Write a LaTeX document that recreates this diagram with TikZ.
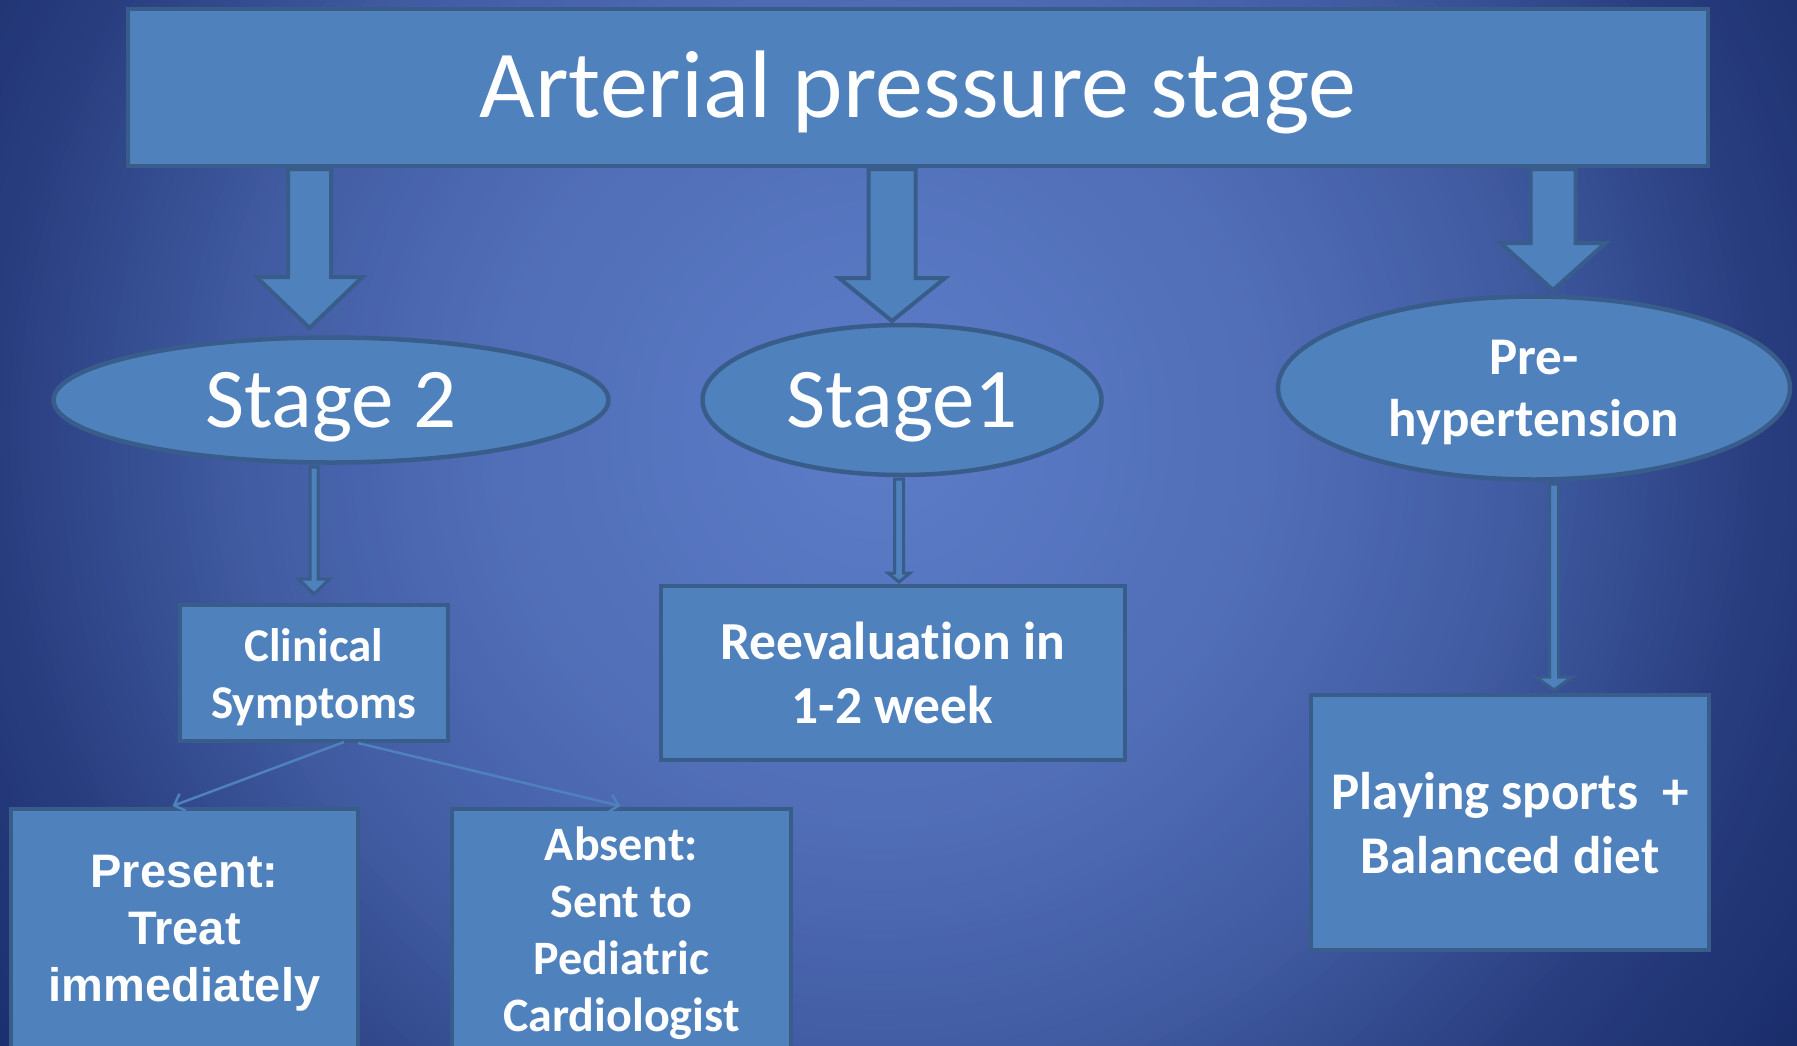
\documentclass[tikz,border=0pt]{standalone}
\usepackage{fontspec}
\setmainfont{Carlito}[Ligatures=NoCommon]
\newfontfamily\arialfont{Liberation Sans}
\usetikzlibrary{arrows.meta,calc,shapes.geometric}
\definecolor{boxfill}{HTML}{4F81BD}
\definecolor{boxline}{HTML}{385D8A}
\definecolor{bgA}{RGB}{93,125,201}
\definecolor{bgE}{RGB}{24,42,104}
\tikzset{
  box/.style={rectangle, fill=boxfill, draw=boxline, line width=4pt, inner sep=0pt, text=white, align=center, text depth=0pt},
  oval/.style={ellipse, fill=boxfill, draw=boxline, line width=4.5pt, inner sep=0pt, text=white, align=center},
  blockarrow/.style={fill=boxfill, draw=boxline, line width=4pt, line join=miter},
  thinarrow/.style={fill=boxfill, draw=boxline, line width=3pt, line join=miter},
  thinconn/.style={draw=boxfill, line width=2.5pt, -{Straight Barb[length=9pt,width=18pt]}},
}
\newcommand{\blockarr}[7]{% style, center x, top y, head y, tip y, shaft half, head half
  \draw[#1] (#2-#6,#3) -- (#2+#6,#3) -- (#2+#6,#4) -- (#2+#7,#4) -- (#2,#5) -- (#2-#7,#4) -- (#2-#6,#4) -- cycle;}
\begin{document}
\begin{tikzpicture}[x=1pt,y=-1pt]
\useasboundingbox (0,0) rectangle (1797,1045);
\clip (0,0) rectangle (1797,1045);
% radial background
\fill[bgE] (0,0) rectangle (1797,1045);
\foreach \r in {1200,1190,...,10} {
  \pgfmathsetmacro\f{\r<389 ? \r/389*18 : (\r<650 ? 18+(\r-389)/261*23 : (\r<880 ? 41+(\r-650)/230*35 : (\r<1104 ? 76+(\r-880)/224*21 : min(100, 97+(\r-1104)/46*3))))}
  \fill[bgE!\f!bgA] (880,430) circle (\r);
}

% title
\node[box, minimum width=1580pt, minimum height=157pt, text height=61pt, font=\fontsize{96}{115}\selectfont] (title) at (918,87) {Arterial pressure stage};

% ellipses
\node[oval, minimum width=555pt, minimum height=125pt, text height=54pt, text depth=0pt, font=\fontsize{85}{102}\selectfont] (s2) at (331,400) {Stage 2};
\node[oval, minimum width=399pt, minimum height=150pt, text height=54pt, text depth=0pt, font=\fontsize{85}{102}\selectfont] (s1) at (902,400) {Stage1};
\node[oval, minimum width=512pt, minimum height=183pt, text depth=0pt, font=\bfseries\fontsize{53}{62}\selectfont] (pre) at (1534,388) {Pre-\\hypertension};

% boxes
\node[box, minimum width=268pt, minimum height=136pt, font=\bfseries\fontsize{47}{57}\selectfont] (clin) at (314,673) {Clinical\\Symptoms};
\node[box, minimum width=464pt, minimum height=174pt, font=\bfseries\fontsize{53.5}{64}\selectfont] (reev) at (892.5,673) {Reevaluation in\\1-2 week};
\node[box, minimum width=398pt, minimum height=255pt, font=\bfseries\fontsize{53}{64}\selectfont] (play) at (1510,822.5) {Playing sports~ +\\Balanced diet};
\node[box, minimum width=347pt, minimum height=239pt, font=\arialfont\bfseries\fontsize{47}{57}\selectfont] (present) at (184.5,928.5) {Present:\\Treat\\immediately};
\node[box, minimum width=339pt, minimum height=241pt, font=\bfseries\fontsize{48}{57}\selectfont] (absent) at (621.5,929.5) {Absent:\\Sent to\\Pediatric\\Cardiologist};

% block arrows from the title
\blockarr{blockarrow}{309.5}{169}{277}{328}{21.5}{53}
\blockarr{blockarrow}{892}{169}{278}{321}{23.5}{53}
\blockarr{blockarrow}{1553}{169}{243}{290}{22.5}{52.5}

% thin arrows
\blockarr{thinarrow}{314}{467}{579}{594}{4}{15.5}
\blockarr{thinarrow}{899}{479}{573}{582}{4.5}{11}
\blockarr{thinarrow}{1554}{484}{677}{690}{4.5}{18}

% connectors from clinical symptoms
\coordinate (c1) at ($(clin.south)+(30,-1)$);
\coordinate (c2) at ($(clin.south)+(44,0)$);
\draw[thinconn] (c1) -- ($(present.north)+(-12,-1)$);
\draw[thinconn] (c2) -- ($(absent.north)+(-1,-1)$);
\end{tikzpicture}
\end{document}
